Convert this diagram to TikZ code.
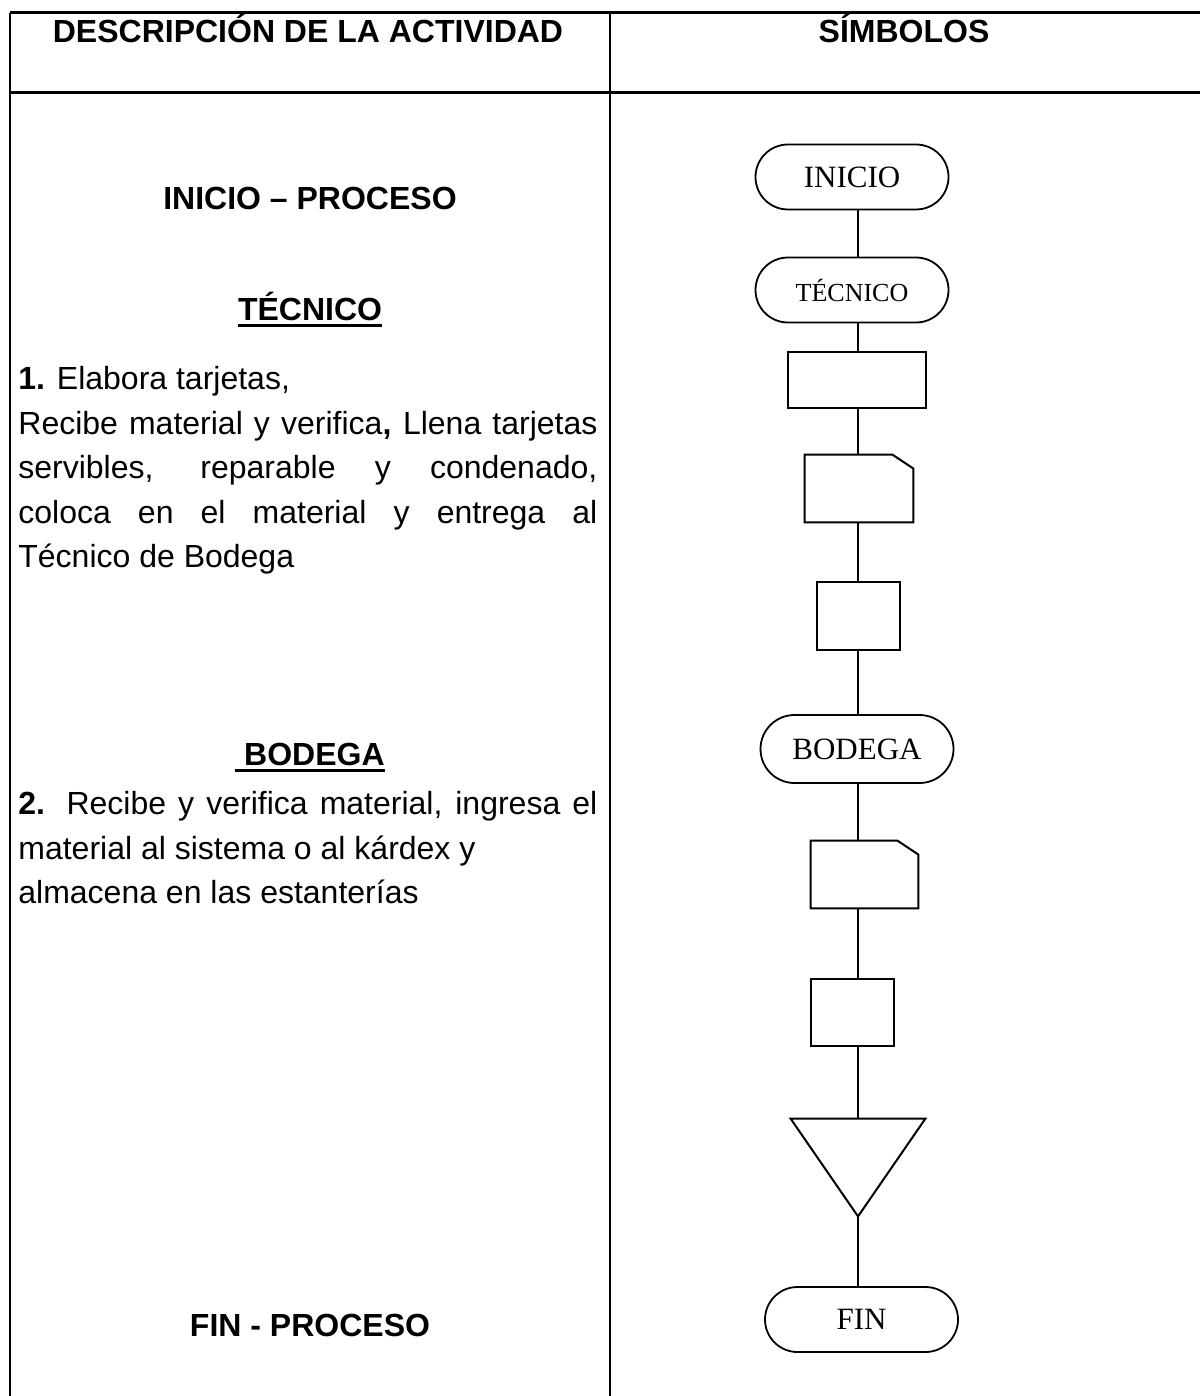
\documentclass[tikz,border=0pt]{standalone}
\usepackage{fontspec}
\setmainfont{Liberation Sans}
\newfontfamily\serifrm{Liberation Serif}
\newcommand{\heavyul}[1]{\leavevmode\setbox0=\hbox{#1}\rlap{\rule[-3.6pt]{\wd0}{1.4pt}}\box0}
\usetikzlibrary{shapes.misc}

\begin{document}
\begin{tikzpicture}[x=0.5pt,y=0.5pt]
    \tikzset{terminal/.style = {shape=rounded rectangle,draw,line width=0.9pt,minimum width=96.5pt,minimum height=32.5pt,inner sep=0pt,font=\serifrm\fontsize{15.5}{18}\selectfont}}
    \tikzset{process/.style = {shape=rectangle,draw,line width=1pt,inner sep=0pt}}
    \tikzset{hidden/.style = {shape=rectangle,draw=none,inner sep=0pt}}
    \tikzset{title/.style = {font=\fontsize{16}{19}\selectfont\bfseries,inner sep=0pt,anchor=base}}
    \tikzset{body/.style = {font=\fontsize{16}{19}\selectfont,inner sep=0pt,anchor=base west}}
    \tikzset{edge/.style = {-,line width=1pt}}
    \tikzset{rule/.style = {line width=1.5pt}}

    \useasboundingbox (0,0) rectangle (1200,-1396);

    % table
    \draw[rule] (9.5,-13) -- (1200,-13);
    \draw[rule] (9.5,-93) -- (1200,-93);
    \draw[line width=0.9pt] (10,-13) -- (10,-1396);
    \draw[line width=0.9pt] (610,-13) -- (610,-1396);

    % left column
    \node[title] (hdesc) at (308,-43) {DESCRIPCIÓN DE LA ACTIVIDAD};
    \node[title] (hsimb) at (904,-43) {SÍMBOLOS};

    \node[title] (inip) at (310,-210) {INICIO – PROCESO};
    \node[title] (tec) at (310,-320) {\heavyul{TÉCNICO}};
    \node[body] (t1) at (18,-389) {\textbf{1.} Elabora tarjetas,};
    \node[body] (t2) at (18,-434) {\makebox[289.5pt][s]{Recibe material y verifica\textbf{,} Llena tarjetas}};
    \node[body] (t3) at (18,-478) {\makebox[289.5pt][s]{servibles, reparable y condenado,}};
    \node[body] (t4) at (18,-523) {\makebox[289.5pt][s]{coloca en el material y entrega al}};
    \node[body] (t5) at (18,-567) {Técnico de Bodega};

    \node[title] (bod) at (310,-765) {\heavyul{\ BODEGA}};
    \node[body] (b1) at (18,-814) {\makebox[289.5pt][s]{\textbf{2.} Recibe y verifica material, ingresa el}};
    \node[body] (b2) at (18,-859) {material al sistema o al kárdex y};
    \node[body] (b3) at (18,-903) {almacena en las estanterías};

    \node[title] (finp) at (310,-1336) {FIN - PROCESO};

    % vertices
    \coordinate (spine) at (858,0);
    \node[terminal] (inicio) at (852,-177) {INICIO};
    \node[terminal,font=\serifrm\fontsize{13}{15}\selectfont] (tecnico) at (852,-290) {TÉCNICO};
    \node[process,minimum width=69pt,minimum height=28pt] (op1) at (857,-380) {};
    \node[hidden,minimum width=54pt,minimum height=33.5pt] (card1) at (859,-488.5) {};
    \node[process,minimum width=41.5pt,minimum height=34pt] (op2) at (858.5,-616) {};
    \node[terminal,minimum height=34pt] (bodega) at (857,-749) {BODEGA};
    \node[hidden,minimum width=53.5pt,minimum height=33.5pt] (card2) at (864.5,-874.5) {};
    \node[process,minimum width=41.5pt,minimum height=33.5pt] (op3) at (852.5,-1012.5) {};
    \node[hidden,minimum width=67pt,minimum height=48.5pt] (store) at (858,-1167.5) {};
    \node[terminal] (fin) at (861.5,-1319.5) {FIN};

    % outlines of the cards and the triangle
    \draw[edge] (card1.south west) -- (card1.north west) -- ([xshift=-10.5pt]card1.north east)
        -- ([yshift=-7pt]card1.north east) -- (card1.south east) -- cycle;
    \draw[edge] (card2.south west) -- (card2.north west) -- ([xshift=-10.5pt]card2.north east)
        -- ([yshift=-7pt]card2.north east) -- (card2.south east) -- cycle;
    \draw[edge] (store.north west) -- (store.north east) -- (store.south) -- cycle;

    %edges
    \draw[edge] (inicio.south -| spine) to (tecnico.north -| spine);
    \draw[edge] (tecnico.south -| spine) to (op1.north -| spine);
    \draw[edge] (op1.south -| spine) to (card1.north -| spine);
    \draw[edge] (card1.south -| spine) to (op2.north -| spine);
    \draw[edge] (op2.south -| spine) to (bodega.north -| spine);
    \draw[edge] (bodega.south -| spine) to (card2.north -| spine);
    \draw[edge] (card2.south -| spine) to (op3.north -| spine);
    \draw[edge] (op3.south -| spine) to (store.north -| spine);
    \draw[edge] (store.south) to (fin.north -| spine);
\end{tikzpicture}
\end{document}
